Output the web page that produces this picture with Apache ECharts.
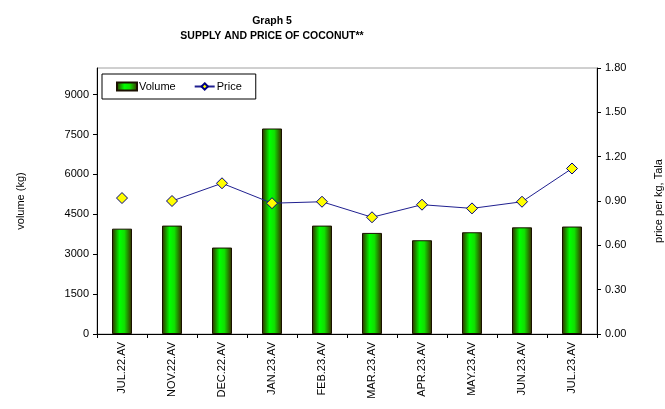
<!DOCTYPE html>
<html>
<head>
<meta charset="utf-8">
<script src="https://cdn.jsdelivr.net/npm/echarts@6/dist/echarts.min.js"></script>
<style>
html,body{margin:0;padding:0;background:#fff;}
#chart{width:665px;height:409px;}
</style>
</head>
<body>
<div id="chart"></div>
<script>
const categories = ['JUL.22.AV','NOV.22.AV','DEC.22.AV','JAN.23.AV','FEB.23.AV','MAR.23.AV','APR.23.AV','MAY.23.AV','JUN.23.AV','JUL.23.AV'];
const volume = [3960, 4075, 3250, 7725, 4075, 3800, 3525, 3825, 4010, 4040];
const price = [0.92, 0.90, 1.02, 0.885, 0.895, 0.79, 0.875, 0.85, 0.895, 1.12];
const leftTicks = [0, 1500, 3000, 4500, 6000, 7500, 9000];
const rightTicks = [0, 0.3, 0.6, 0.9, 1.2, 1.5, 1.8];

const FONT = 'Liberation Sans, Arial, sans-serif';
const chart = echarts.init(document.getElementById('chart'));

const priceFirst = price.map((v, i) => i === 0 ? v : null);
const priceRest = price.map((v, i) => i === 0 ? null : v);

const barGrad = new echarts.graphic.LinearGradient(0, 0, 1, 0, [
  {offset: 0, color: '#3a2300'},
  {offset: 0.38, color: '#00ff00'},
  {offset: 0.62, color: '#10e000'},
  {offset: 1, color: '#3a2300'}
]);

chart.setOption({
  animation: false,
  backgroundColor: '#fff',
  title: {
    text: 'Graph 5\nSUPPLY AND PRICE OF COCONUT**',
    left: 267,
    top: 9,
    textAlign: 'center',
    textStyle: {fontFamily: 'Liberation Sans Narrow, Arial Narrow, Liberation Sans, sans-serif', fontWeight: 'bold', fontSize: 10.5, lineHeight: 15, color: '#000'}
  },
  legend: {
    left: 102,
    top: 74,
    data: [{name: 'Volume', icon: 'rect'}, {name: 'Price'}],
    backgroundColor: '#fff',
    borderColor: '#000',
    borderWidth: 1,
    borderRadius: 0,
    padding: [7, 14, 7, 14],
    itemGap: 18,
    itemWidth: 20,
    itemHeight: 8,
    textStyle: {fontFamily: FONT, fontSize: 11, color: '#000', padding: [0, 0, 0, -3]}
  },
  grid: {
    left: 97, right: 68, top: 68, bottom: 75,
    outerBoundsMode: 'none', containLabel: false,
    show: true, borderColor: '#a0a0a0', borderWidth: 1, backgroundColor: 'transparent'
  },
  xAxis: {
    type: 'category',
    data: categories,
    axisLine: {lineStyle: {color: '#000', width: 1}},
    axisTick: {show: true, length: 4, lineStyle: {color: '#000'}},
    axisLabel: {rotate: 90, fontFamily: FONT, fontSize: 11, color: '#000', margin: 8, interval: 0}
  },
  yAxis: [
    {
      type: 'value', min: 0, max: 10000, interval: 1500,
      name: 'volume (kg)', nameLocation: 'middle', nameGap: 71, nameRotate: 90,
      nameTextStyle: {fontFamily: FONT, fontSize: 11, color: '#000'},
      axisLine: {show: true, lineStyle: {color: '#000'}},
      axisTick: {show: true, length: 4, lineStyle: {color: '#000'}},
      axisLabel: {fontFamily: FONT, fontSize: 11, color: '#000', margin: 8, showMaxLabel: false,
        formatter: v => leftTicks.includes(v) ? String(v) : ''},
      splitLine: {show: false}
    },
    {
      type: 'value', min: 0, max: 1.8, interval: 0.3, position: 'right',
      name: 'price per kg, Tala', nameLocation: 'middle', nameGap: 56, nameRotate: 90,
      nameTextStyle: {fontFamily: FONT, fontSize: 11, color: '#000'},
      axisLine: {show: true, lineStyle: {color: '#000'}},
      axisTick: {show: true, length: 4, lineStyle: {color: '#000'}},
      axisLabel: {fontFamily: FONT, fontSize: 11, color: '#000', margin: 8,
        formatter: v => rightTicks.some(t => Math.abs(t - v) < 1e-6) ? v.toFixed(2) : ''},
      splitLine: {show: false}
    }
  ],
  series: [
    {
      name: 'Volume', type: 'bar', yAxisIndex: 0, data: volume, barWidth: 20,
      itemStyle: {color: barGrad, borderColor: '#1a1000', borderWidth: 1}
    },
    {
      name: 'Price', type: 'line', yAxisIndex: 1, data: priceRest,
      symbol: 'diamond', symbolSize: 11, showAllSymbol: true,
      lineStyle: {color: '#202090', width: 1},
      itemStyle: {color: '#ffff00', borderColor: '#000080', borderWidth: 1}
    },
    {
      name: 'Price', type: 'line', yAxisIndex: 1, data: priceFirst,
      symbol: 'diamond', symbolSize: 11, showAllSymbol: true,
      lineStyle: {color: '#202090', width: 1},
      itemStyle: {color: '#ffff00', borderColor: '#000080', borderWidth: 1}
    }
  ]
});
</script>
</body>
</html>
